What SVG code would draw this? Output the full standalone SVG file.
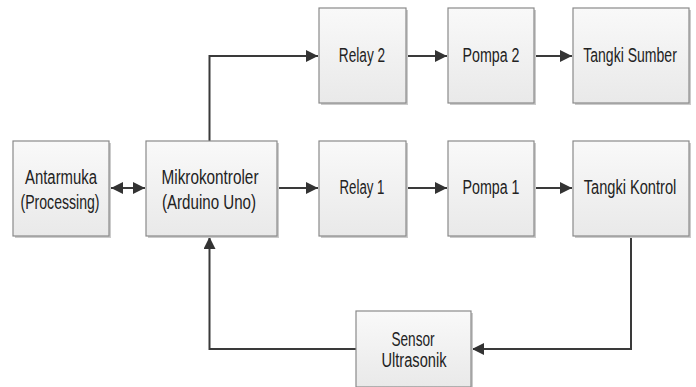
<svg xmlns="http://www.w3.org/2000/svg" width="696" height="387" viewBox="0 0 696 387">
  <defs>
    <linearGradient id="boxFill" x1="0" y1="0" x2="0" y2="1">
      <stop offset="0" stop-color="#f9f9f9"/>
      <stop offset="1" stop-color="#e9e9e9"/>
    </linearGradient>
    <marker id="arrow" viewBox="0 0 10 10" refX="10" refY="5" markerWidth="12" markerHeight="12" markerUnits="userSpaceOnUse" orient="auto-start-reverse">
      <path d="M0,0 L10,5 L0,10 Z" fill="#333"/>
    </marker>
  </defs>
  <style>
    .shadow { fill: #cbcbcb; }
    .box { fill: url(#boxFill); stroke: #8a8a8a; stroke-width: 1.2; }
    .label { font-family: "Liberation Sans", Arial, sans-serif; font-size: 19.5px; fill: #222; text-anchor: middle; }
    .wire { fill: none; stroke: #3a3a3a; stroke-width: 2; }
  </style>

  <rect width="696" height="387" fill="#ffffff"/>

  <!-- connectors -->
  <g id="connectors">
    <line class="wire" x1="111" y1="188" x2="145" y2="188" marker-start="url(#arrow)" marker-end="url(#arrow)"/>
    <line class="wire" x1="277" y1="188" x2="318" y2="188" marker-end="url(#arrow)"/>
    <line class="wire" x1="406" y1="188" x2="447" y2="188" marker-end="url(#arrow)"/>
    <line class="wire" x1="534" y1="188" x2="572" y2="188" marker-end="url(#arrow)"/>
    <polyline class="wire" points="209.5,141 209.5,56 318,56" marker-end="url(#arrow)"/>
    <line class="wire" x1="406" y1="56" x2="447" y2="56" marker-end="url(#arrow)"/>
    <line class="wire" x1="534" y1="56" x2="572" y2="56" marker-end="url(#arrow)"/>
    <polyline class="wire" points="631,236 631,349 472,349" marker-end="url(#arrow)"/>
    <polyline class="wire" points="356,349 209.5,349 209.5,237" marker-end="url(#arrow)"/>
  </g>

  <!-- blocks: labels are narrowed horizontally around their centre -->
  <g id="antarmuka">
    <rect class="shadow" x="15" y="143" width="96" height="95"/>
    <rect class="box" x="13" y="141" width="96" height="95"/>
    <text class="label" transform="translate(61,184) scale(0.764,1)">Antarmuka</text>
    <text class="label" transform="translate(60,209) scale(0.722,1)">(Processing)</text>
  </g>

  <g id="mikrokontroler">
    <rect class="shadow" x="148" y="143" width="131" height="95"/>
    <rect class="box" x="146" y="141" width="131" height="95"/>
    <text class="label" transform="translate(210,184) scale(0.786,1)">Mikrokontroler</text>
    <text class="label" transform="translate(209,209) scale(0.775,1)">(Arduino Uno)</text>
  </g>

  <g id="relay2">
    <rect class="shadow" x="321" y="10" width="87" height="95"/>
    <rect class="box" x="319" y="8" width="87" height="95"/>
    <text class="label" transform="translate(362,62) scale(0.70,1)">Relay 2</text>
  </g>

  <g id="pompa2">
    <rect class="shadow" x="450" y="10" width="86" height="95"/>
    <rect class="box" x="448" y="8" width="86" height="95"/>
    <text class="label" transform="translate(491,62) scale(0.73,1)">Pompa 2</text>
  </g>

  <g id="tangki-sumber">
    <rect class="shadow" x="575" y="10" width="116" height="95"/>
    <rect class="box" x="573" y="8" width="116" height="95"/>
    <text class="label" transform="translate(630,62) scale(0.72,1)">Tangki Sumber</text>
  </g>

  <g id="relay1">
    <rect class="shadow" x="321" y="143" width="87" height="95"/>
    <rect class="box" x="319" y="141" width="87" height="95"/>
    <text class="label" transform="translate(362,194) scale(0.68,1)">Relay 1</text>
  </g>

  <g id="pompa1">
    <rect class="shadow" x="450" y="143" width="86" height="95"/>
    <rect class="box" x="448" y="141" width="86" height="95"/>
    <text class="label" transform="translate(491,194) scale(0.73,1)">Pompa 1</text>
  </g>

  <g id="tangki-kontrol">
    <rect class="shadow" x="575" y="143" width="116" height="95"/>
    <rect class="box" x="573" y="141" width="116" height="95"/>
    <text class="label" transform="translate(630,194) scale(0.75,1)">Tangki Kontrol</text>
  </g>

  <g id="sensor-ultrasonik">
    <rect class="shadow" x="358" y="313" width="115" height="76"/>
    <rect class="box" x="356" y="311" width="115" height="76"/>
    <text class="label" transform="translate(413,346) scale(0.70,1)">Sensor</text>
    <text class="label" transform="translate(414,367) scale(0.75,1)">Ultrasonik</text>
  </g>
</svg>
